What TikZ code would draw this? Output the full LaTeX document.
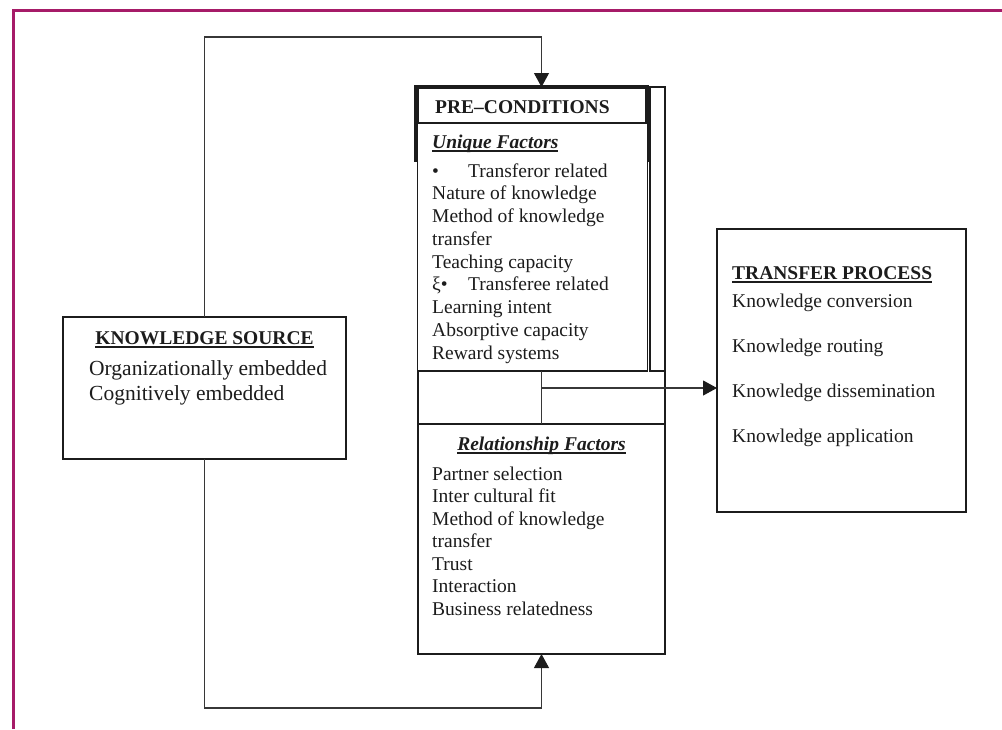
\documentclass[tikz,border=0pt]{standalone}
\usepackage{fontspec}
\setmainfont{Liberation Serif}
\usetikzlibrary{arrows.meta}
\definecolor{framemagenta}{RGB}{166,27,104}
\definecolor{ink}{RGB}{28,28,28}
\definecolor{wire}{RGB}{55,55,55}
% underline set at a fixed depth below the baseline
\newsavebox{\ulbox}
\newcommand{\ulword}[1]{\sbox{\ulbox}{#1}\rlap{\rule[-3.6pt]{\wd\ulbox}{1.7pt}}\usebox{\ulbox}}
\begin{document}
\begin{tikzpicture}[x=1pt,y=-1pt,
  txt/.style={inner sep=0pt, anchor=base west, text=ink, font=\fontsize{19.5}{22.8}\selectfont},
  bigtxt/.style={txt, font=\fontsize{21.5}{25}\selectfont},
  frame/.style={draw=ink, inner sep=0pt, outer sep=0pt},
  thinbox/.style={frame, line width=1.2pt},
  conn/.style={draw=wire, line width=1.1pt, -{Triangle[length=14pt,width=15pt,color=ink]}},
  wireline/.style={draw=wire, line width=1.1pt}]
\useasboundingbox (0,0) rectangle (1002,729);

% page frame
\draw[framemagenta, line width=3pt] (13.5,729) -- (13.5,10.5) -- (1002,10.5);

% boxes
\node[thinbox, minimum width=283pt, minimum height=142pt] (ks) at (204.5,388) {};
\node[thinbox, minimum width=249pt, minimum height=283pt] (tp) at (841.5,370.5) {};
\node[thinbox, minimum width=247pt, minimum height=230pt] (rel) at (541.5,539) {};
\node[frame, line width=2.8pt, minimum width=247pt, minimum height=567pt] (pre) at (541.5,370.5) {};
\node[frame, line width=4pt, minimum width=231pt, minimum height=73pt] (head) at (531,123.5) {};
\node[frame, line width=2.6pt, minimum width=15pt, minimum height=284pt] (rcol) at (657.5,229) {};
\node[frame, line width=1.1pt, fill=white, minimum width=230pt, minimum height=248pt] (uf) at (532.5,247) {};

% connectors
\coordinate (topbend) at (0,37);
\coordinate (botbend) at (0,708);
\coordinate (split) at (541.5,388);
\draw[conn] (ks.north) -- (ks.north |- topbend) -| (pre.north);
\draw[conn] (ks.south) -- (ks.south |- botbend) -| (pre.south);
\draw[wireline] (uf.south -| rel.north) -- (rel.north);
\draw[conn] (split) -- (split -| tp.west);

% pre-conditions
\node[txt] (hdr) at (435,113.5) {\bfseries PRE–CONDITIONS};
\node[txt] (uftitle) at (432,148) {\ulword{\bfseries\itshape Unique Factors}};
\foreach \t [count=\i from 0] in {{\makebox[36pt][l]{•}Transferor related},
    {Nature of knowledge}, {Method of knowledge}, {transfer}, {Teaching capacity},
    {\makebox[36pt][l]{ξ•}Transferee related}, {Learning intent},
    {Absorptive capacity}, {Reward systems}}
  \node[txt] (uf-\i) at (432,177+22.75*\i) {\t};

\node[txt, anchor=base] (reltitle) at (541.5,450) {\ulword{\bfseries\itshape Relationship Factors}};
\foreach \t [count=\i from 0] in {{Partner selection}, {Inter cultural fit},
    {Method of knowledge}, {transfer}, {Trust}, {Interaction}, {Business relatedness}}
  \node[txt] (rel-\i) at (432,480+22.5*\i) {\t};

% knowledge source
\node[txt, anchor=base] (kstitle) at (204.5,344.5) {\ulword{\bfseries KNOWLEDGE SOURCE}};
\node[bigtxt] (ks-0) at (89,375.5) {Organizationally embedded};
\node[bigtxt] (ks-1) at (89,400.5) {Cognitively embedded};

% transfer process
\node[txt] (tptitle) at (732,279.5) {\ulword{\bfseries TRANSFER PROCESS}};
\foreach \t [count=\i from 0] in {{Knowledge conversion}, {Knowledge routing},
    {Knowledge dissemination}, {Knowledge application}}
  \node[txt] (tp-\i) at (732,307+45.3*\i) {\t};
\end{tikzpicture}
\end{document}
